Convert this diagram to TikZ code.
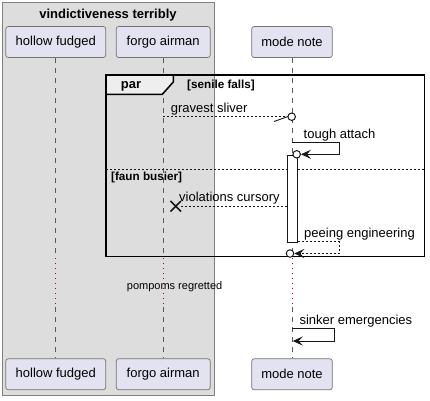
\documentclass[tikz,border=0pt]{standalone}
\usepackage{fontspec}
\setmainfont{Liberation Sans}
\usetikzlibrary{arrows.meta,shapes.misc}
\definecolor{partfill}{HTML}{E2E2F0}
\definecolor{groupfill}{HTML}{DDDDDD}
\definecolor{tabfill}{HTML}{EEEEEE}
\definecolor{delayred}{HTML}{A80036}
\definecolor{ink}{HTML}{181818}
\begin{document}
\begin{tikzpicture}[x=1pt,y=-1pt,
  part/.style={draw=black!55,fill=partfill,rounded corners=2.5pt,line width=0.7pt,minimum height=31pt,inner sep=0pt,font=\fontsize{13}{15}\selectfont},
  life/.style={black!65,dash pattern=on 5pt off 5pt,line width=0.7pt},
  delay/.style={delayred,dash pattern=on 1pt off 4pt,line width=0.8pt},
  msg/.style={ink,line width=0.9pt},
  reply/.style={msg,dash pattern=on 2pt off 2pt},
  tip/.style={-{Stealth[length=10pt,width=9pt,inset=4pt]}},
  lbl/.style={anchor=base west,inner sep=0pt,font=\fontsize{13}{15}\selectfont},
  guard/.style={anchor=base west,inner sep=0pt,font=\bfseries\fontsize{11.7}{13}\selectfont},
  circ/.style={circle,draw=ink,fill=white,line width=1pt,minimum size=7.5pt,inner sep=0pt}]
  \useasboundingbox (0,0) rectangle (430,400);
  \draw[black!50,fill=groupfill,line width=0.8pt] (2,2) rectangle (214.3,395);
  \node[anchor=base,inner sep=0pt,font=\bfseries\fontsize{13}{15}\selectfont] (grp) at (108,18) {vindictiveness terribly};

  \node[part,minimum width=100pt] (hfT) at (55.8,42) {hollow fudged};
  \node[part,minimum width=94pt] (faT) at (163.2,42) {forgo airman};
  \node[part,minimum width=80.6pt] (mnT) at (292,42) {mode note};
  \node[part,minimum width=100pt] (hfB) at (55.8,374.2) {hollow fudged};
  \node[part,minimum width=94pt] (faB) at (163.2,374.2) {forgo airman};
  \node[part,minimum width=80.6pt] (mnB) at (292,374.2) {mode note};

  \coordinate (dA) at (0,258);
  \coordinate (dB) at (0,307);
  \draw[life] (hfT) -- (hfT |- dA);
  \draw[delay] (hfT |- dA) -- (hfT |- dB);
  \draw[life] (hfT |- dB) -- (hfB);
  \draw[life] (faT) -- (faT |- dA);
  \draw[delay] (faT |- dA) -- (faT |- dB);
  \draw[life] (faT |- dB) -- (faB);
  \draw[life] (mnT) -- (mnT |- dA);
  \draw[delay] (mnT |- dA) -- (mnT |- dB);
  \draw[life] (mnT |- dB) -- (mnB);

  \draw[line width=1.5pt] (106,75) rectangle (424.3,256.7);
  \draw[line width=1.5pt,fill=tabfill] (106,75) -- (173.3,75) -- (173.3,82) -- (162.3,94.3) -- (106,94.3) -- cycle;
  \node[anchor=base,inner sep=0pt,font=\bfseries\fontsize{13}{15}\selectfont] (par) at (131,88.5) {par};
  \node[guard] (g1) at (187,88) {[senile falls]};
  \draw[ink,line width=0.8pt,dash pattern=on 2pt off 2pt] (106,169.3) -- (424.3,169.3);
  \node[guard] (g2) at (111,180) {[faun busier]};

  \node[circ] (c1) at (291.7,116.7) {};
  \draw[reply] (faT |- c1) -- (c1);
  \draw[msg] (c1.west) -- (274,121.5);
  \node[lbl] (m1) at (170.7,112.5) {gravest sliver};

  \node[draw=ink,fill=white,line width=0.9pt,minimum width=10.4pt,minimum height=87.3pt,inner sep=0pt] (act) at (292.5,198.6) {};
  \node[circ] (c2) at (296.7,154.3) {};
  \coordinate (s2) at (mnT |- 0,142.3);
  \draw[msg,tip] (s2) -- (339.3,142.3) |- (c2.east);
  \node[lbl] (m2) at (303.5,138) {tough attach};

  \node[cross out,draw=ink,line width=1.6pt,minimum size=9pt,inner sep=0pt] (kill) at (175.7,206.3) {};
  \draw[reply] (act.west |- kill) -- (kill.east);
  \node[lbl] (m3) at (179,201.8) {violations cursory};

  \node[circ] (c4) at (290,253.5) {};
  \coordinate (s4) at (act.east |- 0,241.7);
  \draw[reply,tip] (s4) -- (339.3,241.7) |- (c4.east);
  \node[lbl] (m4) at (304,237.2) {peeing engineering};

  \node[anchor=base west,inner sep=0pt,font=\fontsize{11}{13}\selectfont] (dl) at (126.7,289.5) {pompoms regretted};

  \coordinate (s5) at (mnT |- 0,328.3);
  \coordinate (e5) at (292.7,341);
  \draw[msg,tip] (s5) -- (334.3,328.3) |- (e5);
  \node[lbl] (m5) at (299.3,324) {sinker emergencies};
\end{tikzpicture}
\end{document}
